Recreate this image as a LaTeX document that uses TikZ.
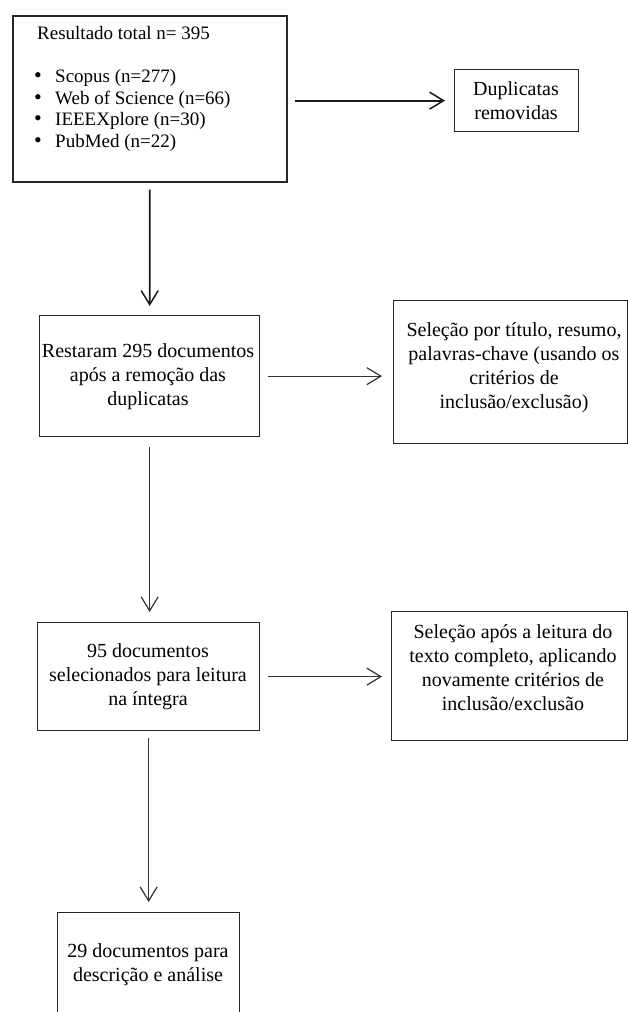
\documentclass[tikz,border=0pt]{standalone}
\usepackage{fontspec}
\setmainfont{Liberation Serif}
\usetikzlibrary{arrows.meta}
\tikzset{
  box/.style={draw=black!85, line width=1.3pt, fill=none, inner sep=0pt},
  bigbox/.style={box, line width=1.7pt},
  txt/.style={align=center, inner sep=0pt, font=\fontsize{20}{24}\selectfont},
  ltxt/.style={anchor=base west, inner sep=0pt, font=\fontsize{19}{22}\selectfont},
  conn/.style={draw=black!80, line width=1.2pt, -{Straight Barb[length=14pt,width=17pt,line width=1.2pt]}},
  connbold/.style={conn, draw=black!90, line width=1.7pt, -{Straight Barb[length=14pt,width=17pt,line width=1.5pt]}}
}
\newcommand{\blt}{\makebox[21pt][l]{\fontsize{22}{22}\selectfont\textbullet}}
\begin{document}
\begin{tikzpicture}[x=1pt,y=-1pt]
\clip (0,0) rectangle (628,1012);
\fill[white] (0,0) rectangle (628,1012);
% boxes
\node[bigbox, anchor=north west, minimum width=274pt, minimum height=166pt] (b1) at (12,15) {};
\node[box, anchor=north west, minimum width=124pt, minimum height=62pt] (dup) at (454,69) {};
\node[box, anchor=north west, minimum width=220pt, minimum height=121pt] (b2) at (39,315) {};
\node[box, anchor=north west, minimum width=234pt, minimum height=143pt] (r1) at (393,300) {};
\node[box, anchor=north west, minimum width=222pt, minimum height=108pt] (b3) at (37,622) {};
\node[box, anchor=north west, minimum width=236pt, minimum height=129pt] (r2) at (391,611) {};
\node[box, anchor=north west, minimum width=182pt, minimum height=110pt] (b4) at (57,912) {};
% texts
\node[ltxt] (t0) at (37,39) {Resultado total n= 395};
\node[ltxt] (l1) at (34,82) {\blt Scopus (n=277)};
\node[ltxt] (l2) at (34,104) {\blt Web of Science (n=66)};
\node[ltxt] (l3) at (34,125.5) {\blt IEEEXplore (n=30)};
\node[ltxt] (l4) at (34,147.5) {\blt PubMed (n=22)};
\node[txt] (dupt) at (516,101) {Duplicatas\\removidas};
\node[txt] (b2t) at (148,377) {Restaram 295 documentos\\após a remoção das\\duplicatas};
\node[txt] (r1t) at (514,368) {Seleção por título, resumo,\\palavras-chave (usando os\\critérios de\\inclusão/exclusão)};
\node[txt] (b3t) at (148,677) {95 documentos\\selecionados para leitura\\na íntegra};
\node[txt] (r2t) at (513,668) {Seleção após a leitura do\\texto completo, aplicando\\novamente critérios de\\inclusão/exclusão};
\node[txt] (b4t) at (148,965) {29 documentos para\\descrição e análise};
% connectors
\draw[connbold, shorten <=7pt, shorten >=9pt] (b1.south) -- (b2.north);
\draw[connbold, shorten <=7pt, shorten >=9pt] (b1.east |- dup.west) -- (dup.west);
\draw[conn, shorten <=8pt, shorten >=11pt] (b2.east) -- (b2.east -| r1.west);
\draw[conn, shorten <=10pt, shorten >=10pt] (b2.south) -- (b2.south |- b3.north);
\draw[conn, shorten <=8pt, shorten >=9pt] (b3.east) -- (b3.east -| r2.west);
\draw[conn, shorten <=7pt, shorten >=10pt] (b3.south) -- (b3.south |- b4.north);
\end{tikzpicture}
\end{document}
